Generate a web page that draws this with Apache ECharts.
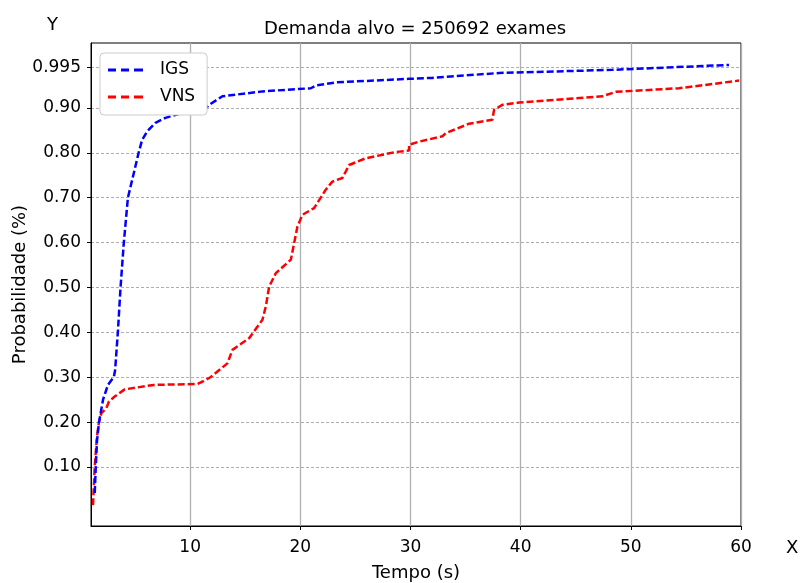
<!DOCTYPE html>
<html>
<head>
<meta charset="utf-8">
<script src="https://cdn.jsdelivr.net/npm/echarts@6/dist/echarts.min.js"></script>
<style>
html,body{margin:0;padding:0;background:#fff;}
#chart{width:801px;height:583px;}
</style>
</head>
<body>
<div id="chart"></div>
<script>
// ---- data ----
const igsX = [1.34,1.46,1.55,1.73,2.09,2.54,3.08,3.19,3.44,3.68,3.98,4.35,4.74,5.34,5.64,6.10,6.85,7.76,9.00,11.27,11.72,12.93,16.56,20.95,21.41,23.22,29.87,31.96,38.04,48.29,58.91];
const igsY = [0.042,0.116,0.160,0.200,0.250,0.283,0.301,0.316,0.401,0.500,0.600,0.700,0.740,0.802,0.829,0.848,0.867,0.878,0.887,0.896,0.907,0.926,0.937,0.944,0.950,0.957,0.965,0.967,0.978,0.985,0.996];
const vnsX = [1.18,1.34,1.54,1.73,1.94,2.39,2.63,3.15,4.06,6.71,10.64,11.09,11.84,13.38,13.84,15.35,16.56,16.87,17.17,17.78,19.14,19.44,19.74,20.19,21.25,22.31,22.91,23.82,24.43,25.94,28.67,29.87,29.87,30.78,32.90,33.20,35.32,37.43,37.59,38.34,39.85,47.41,48.63,54.37,54.53,59.82];
const vnsY = [0.015,0.101,0.168,0.201,0.220,0.231,0.246,0.257,0.273,0.283,0.285,0.290,0.300,0.331,0.361,0.387,0.428,0.458,0.502,0.532,0.562,0.599,0.636,0.662,0.677,0.718,0.736,0.744,0.773,0.788,0.802,0.805,0.818,0.825,0.837,0.844,0.865,0.874,0.896,0.907,0.912,0.926,0.936,0.944,0.948,0.961];
const xTicks = [10,20,30,40,50,60];
const yTicks = [0.1,0.2,0.3,0.4,0.5,0.6,0.7,0.8,0.9,0.99];
const yTickLabels = ['0.10','0.20','0.30','0.40','0.50','0.60','0.70','0.80','0.90','0.995'];
const titleText = 'Demanda alvo = 250692 exames';
const seriesNames = ['IGS','VNS'];

const zip = (a,b) => a.map((v,i)=>[v,b[i]]);
const FONT = 'DejaVu Sans';
const DASH_ICON = 'path://M0,0h8v3h-8z M13,0h8v3h-8z M26,0h9v3h-9z';
const chart = echarts.init(document.getElementById('chart'), null, {renderer:'canvas'});
chart.setOption({
  animation:false,
  backgroundColor:'#fff',
  title:{text:titleText,left:410,top:15,textAlign:'center',
    textStyle:{fontFamily:FONT,fontSize:18,fontWeight:'normal',color:'#000'}},
  graphic:[
    {type:'text',left:47,top:16,style:{text:'Y',font:'18px "DejaVu Sans"',fill:'#000'}},
    {type:'text',left:786,top:539,style:{text:'X',font:'18px "DejaVu Sans"',fill:'#000'}}
  ],
  legend:{
    left:100,top:53,orient:'vertical',icon:DASH_ICON,
    backgroundColor:'#fff',borderColor:'#cccccc',borderWidth:1,borderRadius:4,
    padding:[7,12,8,8],itemWidth:35,itemHeight:3,itemGap:7,
    textStyle:{fontFamily:FONT,fontSize:17,color:'#000',padding:[0,0,0,12],lineHeight:20},
    data:seriesNames
  },
  grid:{left:91,right:60,top:43,bottom:57,show:true,borderColor:'#000',borderWidth:1,
    containLabel:false,outerBoundsMode:'none'},
  xAxis:{
    type:'value',min:1,max:60,
    name:'Tempo (s)',nameLocation:'middle',nameGap:38,nameMoveOverlap:false,
    nameTextStyle:{fontFamily:FONT,fontSize:18,color:'#000'},
    axisLine:{show:true,onZero:false,lineStyle:{color:'#000',width:1}},
    axisTick:{show:true,length:4,customValues:xTicks,lineStyle:{color:'#000'}},
    axisLabel:{customValues:xTicks,fontFamily:FONT,fontSize:17,color:'#000',margin:13},
    splitLine:{show:true,lineStyle:{color:'#b0b0b0',width:1.3,type:'solid'}}
  },
  yAxis:{
    type:'value',min:-0.0314,max:1.0448,
    name:'Probabilidade (%)',nameLocation:'middle',nameGap:62,nameRotate:90,nameMoveOverlap:false,
    nameTextStyle:{fontFamily:FONT,fontSize:18,color:'#000'},
    axisLine:{show:true,onZero:false,lineStyle:{color:'#000',width:1}},
    axisTick:{show:true,length:4,customValues:yTicks,lineStyle:{color:'#000'}},
    axisLabel:{customValues:yTicks,fontFamily:FONT,fontSize:17,color:'#000',margin:10,
      formatter:function(v){const i=yTicks.findIndex(t=>Math.abs(t-v)<1e-6);return i>=0?yTickLabels[i]:'';}},
    splitLine:{show:true,lineStyle:{color:'#999',width:0.8,type:[3,2]}}
  },
  series:[
    {name:seriesNames[0],type:'line',data:zip(igsX,igsY),symbol:'none',
      lineStyle:{color:'#0000ff',width:2.5,type:[7,3]},itemStyle:{color:'#0000ff'},z:3},
    {name:seriesNames[1],type:'line',data:zip(vnsX,vnsY),symbol:'none',
      lineStyle:{color:'#ff0000',width:2.5,type:[7,3]},itemStyle:{color:'#ff0000'},z:2}
  ]
});
</script>
</body>
</html>
